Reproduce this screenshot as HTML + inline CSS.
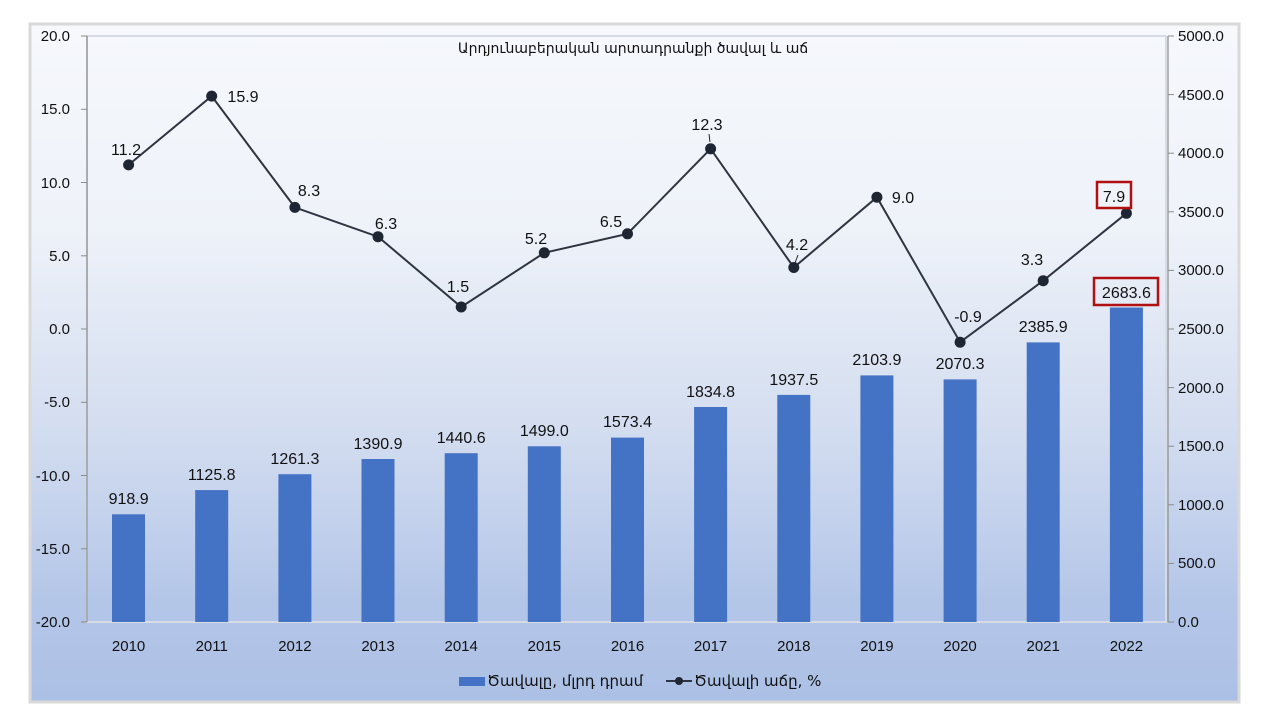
<!DOCTYPE html>
<html><head><meta charset="utf-8"><style>
html,body{margin:0;padding:0;background:#fff;}
svg{display:block;}
text{font-family:"Liberation Sans","DejaVu Sans",sans-serif;fill:#111;}
</style></head><body>
<svg width="1280" height="720" viewBox="0 0 1280 720" xmlns="http://www.w3.org/2000/svg">
<defs>
<linearGradient id="bg" x1="0" y1="0" x2="0" y2="1">
<stop offset="0" stop-color="#f6f8fc"/>
<stop offset="0.3" stop-color="#eef2f9"/>
<stop offset="0.6" stop-color="#d3ddf0"/>
<stop offset="0.85" stop-color="#b4c6e8"/>
<stop offset="1" stop-color="#acc0e5"/>
</linearGradient>
</defs>
<rect x="30" y="24" width="1209" height="678" fill="url(#bg)" stroke="#d9d9d9" stroke-width="3"/>
<rect x="87" y="36" width="1079" height="586" fill="none" stroke="#d6dbe4" stroke-width="2"/>
<line x1="87" y1="36" x2="87" y2="622" stroke="#8c8c8c" stroke-width="1.2"/>
<line x1="1168" y1="36" x2="1168" y2="622" stroke="#8c8c8c" stroke-width="1.2"/>
<g stroke="#8c8c8c" stroke-width="1">
<line x1="81" y1="36" x2="87" y2="36"/><line x1="81" y1="109.3" x2="87" y2="109.3"/><line x1="81" y1="182.5" x2="87" y2="182.5"/><line x1="81" y1="255.8" x2="87" y2="255.8"/><line x1="81" y1="329" x2="87" y2="329"/><line x1="81" y1="402.3" x2="87" y2="402.3"/><line x1="81" y1="475.5" x2="87" y2="475.5"/><line x1="81" y1="548.8" x2="87" y2="548.8"/><line x1="81" y1="622" x2="87" y2="622"/>
<line x1="1168" y1="36" x2="1174" y2="36"/><line x1="1168" y1="94.6" x2="1174" y2="94.6"/><line x1="1168" y1="153.2" x2="1174" y2="153.2"/><line x1="1168" y1="211.8" x2="1174" y2="211.8"/><line x1="1168" y1="270.4" x2="1174" y2="270.4"/><line x1="1168" y1="329" x2="1174" y2="329"/><line x1="1168" y1="387.6" x2="1174" y2="387.6"/><line x1="1168" y1="446.2" x2="1174" y2="446.2"/><line x1="1168" y1="504.8" x2="1174" y2="504.8"/><line x1="1168" y1="563.4" x2="1174" y2="563.4"/><line x1="1168" y1="622" x2="1174" y2="622"/>
</g>
<g font-size="15" text-anchor="end">
<text x="70" y="41">20.0</text><text x="70" y="114">15.0</text><text x="70" y="188">10.0</text><text x="70" y="261">5.0</text><text x="70" y="334">0.0</text><text x="70" y="407">-5.0</text><text x="70" y="481">-10.0</text><text x="70" y="554">-15.0</text><text x="70" y="627">-20.0</text>
</g>
<g font-size="15" text-anchor="start">
<text x="1178" y="41">5000.0</text><text x="1178" y="100">4500.0</text><text x="1178" y="158">4000.0</text><text x="1178" y="217">3500.0</text><text x="1178" y="275">3000.0</text><text x="1178" y="334">2500.0</text><text x="1178" y="393">2000.0</text><text x="1178" y="451">1500.0</text><text x="1178" y="510">1000.0</text><text x="1178" y="568">500.0</text><text x="1178" y="627">0.0</text>
</g>
<text x="633" y="53" font-size="14" text-anchor="middle" style="font-family:'DejaVu Sans',sans-serif">Արդյունաբերական արտադրանքի ծավալ և աճ</text>
<g fill="#4472c4">
<rect x="112" y="514.3" width="33" height="107.7"/>
<rect x="195.2" y="490.1" width="33" height="131.9"/>
<rect x="278.4" y="474.2" width="33" height="147.8"/>
<rect x="361.5" y="459" width="33" height="163"/>
<rect x="444.7" y="453.2" width="33" height="168.8"/>
<rect x="527.8" y="446.3" width="33" height="175.7"/>
<rect x="611" y="437.6" width="33" height="184.4"/>
<rect x="694.1" y="407" width="33" height="215"/>
<rect x="777.3" y="394.9" width="33" height="227.1"/>
<rect x="860.4" y="375.4" width="33" height="246.6"/>
<rect x="943.6" y="379.4" width="33" height="242.6"/>
<rect x="1026.7" y="342.4" width="33" height="279.6"/>
<rect x="1109.9" y="307.5" width="33" height="314.5"/>
</g>
<g font-size="16" text-anchor="middle">
<text x="128.6" y="504">918.9</text><text x="211.7" y="480">1125.8</text><text x="294.9" y="464">1261.3</text><text x="378" y="449">1390.9</text><text x="461.2" y="443">1440.6</text><text x="544.3" y="436">1499.0</text><text x="627.5" y="427">1573.4</text><text x="710.6" y="397">1834.8</text><text x="793.8" y="385">1937.5</text><text x="876.9" y="365">2103.9</text><text x="960.1" y="369">2070.3</text><text x="1043.2" y="332">2385.9</text><text x="1126.4" y="298">2683.6</text>
</g>
<rect x="1094" y="278" width="64" height="27" fill="none" stroke="#b01010" stroke-width="2.5"/>
<polyline fill="none" stroke="#2e3440" stroke-width="2" points="128.6,164.9 211.7,96.1 294.9,207.4 378,236.7 461.2,307 544.3,252.8 627.5,233.8 710.6,148.8 793.8,267.5 876.9,197.2 960.1,342.2 1043.2,280.7 1126.4,213.3"/>
<g fill="#1f2633">
<circle cx="128.6" cy="164.9" r="5.5"/><circle cx="211.7" cy="96.1" r="5.5"/><circle cx="294.9" cy="207.4" r="5.5"/><circle cx="378" cy="236.7" r="5.5"/><circle cx="461.2" cy="307" r="5.5"/><circle cx="544.3" cy="252.8" r="5.5"/><circle cx="627.5" cy="233.8" r="5.5"/><circle cx="710.6" cy="148.8" r="5.5"/><circle cx="793.8" cy="267.5" r="5.5"/><circle cx="876.9" cy="197.2" r="5.5"/><circle cx="960.1" cy="342.2" r="5.5"/><circle cx="1043.2" cy="280.7" r="5.5"/><circle cx="1126.4" cy="213.3" r="5.5"/>
</g>
<g stroke="#222" stroke-width="1"><line x1="709" y1="134" x2="710" y2="142"/><line x1="798" y1="255" x2="795" y2="263"/></g>
<g font-size="16" text-anchor="middle">
<text x="126" y="155">11.2</text><text x="243" y="102">15.9</text><text x="309" y="196">8.3</text><text x="386" y="229">6.3</text><text x="458" y="292">1.5</text><text x="536" y="244">5.2</text><text x="611" y="227">6.5</text><text x="707" y="130">12.3</text><text x="797" y="250">4.2</text><text x="903" y="203">9.0</text><text x="968" y="322">-0.9</text><text x="1032" y="265">3.3</text><text x="1114" y="202">7.9</text>
</g>
<rect x="1097" y="182" width="34" height="26" fill="none" stroke="#b01010" stroke-width="2.5"/>
<g font-size="15" text-anchor="middle">
<text x="128.6" y="651">2010</text><text x="211.7" y="651">2011</text><text x="294.9" y="651">2012</text><text x="378" y="651">2013</text><text x="461.2" y="651">2014</text><text x="544.3" y="651">2015</text><text x="627.5" y="651">2016</text><text x="710.6" y="651">2017</text><text x="793.8" y="651">2018</text><text x="876.9" y="651">2019</text><text x="960.1" y="651">2020</text><text x="1043.2" y="651">2021</text><text x="1126.4" y="651">2022</text>
</g>
<rect x="459" y="677" width="26" height="9" fill="#4472c4"/>
<text x="487" y="686" font-size="15" style="font-family:'DejaVu Sans',sans-serif">Ծավալը, մլրդ դրամ</text>
<line x1="666" y1="681" x2="692" y2="681" stroke="#2e3440" stroke-width="2"/>
<circle cx="679" cy="681" r="4" fill="#1f2633"/>
<text x="694" y="686" font-size="15" style="font-family:'DejaVu Sans',sans-serif">Ծավալի աճը, %</text>
</svg>
</body></html>
